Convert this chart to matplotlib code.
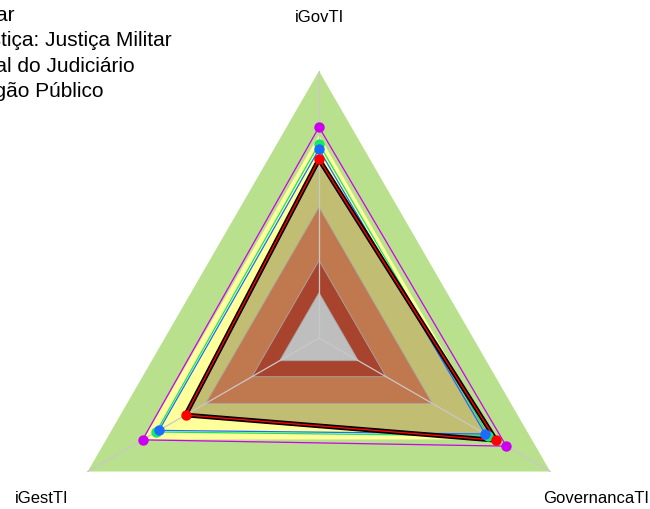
import numpy as np
import matplotlib
matplotlib.use("Agg")
import matplotlib.pyplot as plt
import matplotlib.patches as pat

plt.rcParams['font.family'] = ['Liberation Sans', 'DejaVu Sans']

# axes of the radar, in drawing order (top, then counter-clockwise)
axis_names = ["iGovTI", "iGestTI", "GovernancaTI"]

# background bands (outer limit of each band, 0..1 scale)
band_limits = [1.0, 0.76, 0.49, 0.29, 0.17]
band_colors = ["#B9E08D", "#FFFF9C", "#C0784F", "#A8432E", "#BEBEBE"]

# series values: iGovTI, iGestTI, GovernancaTI
series_names = ["Superior Tribunal Militar",
                "Segmento de Justiça: Justiça Militar",
                "Média Geral do Judiciário",
                "Média Geral Órgão Público"]
stm = [0.669, 0.577, 0.766]
seg_militar = [0.727, 0.704, 0.733]
judiciario = [0.707, 0.692, 0.719]
orgao_publico = [0.790, 0.763, 0.810]

series_values = [stm, seg_militar, judiciario, orgao_publico]
series_colors = ["#FF0000", "#19E46C", "#1A6BFF", "#CC00EE"]

# geometry: center pixel and radius of the outer triangle
W, H = 650, 509
cx, cy, R = 319, 338, 267

fig = plt.figure(figsize=(W / 100, H / 100), dpi=100)
ax = fig.add_axes([0, 0, 1, 1])
ax.set_xlim(-cx / R, (W - cx) / R)
ax.set_ylim((cy - H) / R, cy / R)
ax.axis("off")

angles = np.deg2rad([90, 210, 330])


def to_xy(values):
    v = np.asarray(values, dtype=float)
    return v * np.cos(angles), v * np.sin(angles)


def add_triangle(values, color, z, edge="none", lw=0):
    x, y = to_xy(values)
    p = pat.Polygon(list(zip(x, y)), closed=True, facecolor=color,
                    edgecolor=edge, linewidth=lw, zorder=z)
    ax.add_patch(p)


# outer bands: green and yellow
add_triangle([band_limits[0]] * 3, band_colors[0], 1)
add_triangle([band_limits[1]] * 3, band_colors[1], 2)

# fill of the organ series
add_triangle(stm, "#C1BE73", 3)

# inner bands
for z, (lim, col) in enumerate(zip(band_limits[2:], band_colors[2:])):
    add_triangle([lim] * 3, col, 4 + z, edge="#A8A8A8", lw=0.6)

# axis lines
for a in angles:
    ax.plot([0, np.cos(a)], [0, np.sin(a)], color="#C8C8C8", lw=0.9, zorder=8)

# series lines (magenta, blue, green first, organ on top)
for vals, col in zip(series_values[::-1][:3], series_colors[::-1][:3]):
    x, y = to_xy(vals)
    ax.plot(np.append(x, x[0]), np.append(y, y[0]), color=col, lw=0.9, zorder=9)

x, y = to_xy(stm)
ax.plot(np.append(x, x[0]), np.append(y, y[0]), color="black", lw=3.4,
        zorder=10, solid_joinstyle="miter")
ax.plot(np.append(x, x[0]), np.append(y, y[0]), color="#FF0000", lw=1.0,
        zorder=11)

# points: magenta, green, blue, red (red on top)
point_order = [3, 1, 2, 0]
for z, i in enumerate(point_order):
    x, y = to_xy(series_values[i])
    ax.plot(x, y, "o", color=series_colors[i], markersize=7.5,
            markeredgewidth=0, zorder=12 + z)

# axis labels
for name, a in zip(axis_names, angles):
    ax.text(1.2 * np.cos(a), 1.2 * np.sin(a), name, ha="center", va="center",
            fontsize=12, color="black")

# legend text (left part runs off the figure)
legend_ends = [15, 172, 135, 104]
legend_base = [21, 46, 71.5, 97]
for name, xe, yb in zip(series_names, legend_ends, legend_base):
    fig.text(xe / W, 1 - yb / H, name, ha="right", va="baseline",
             fontsize=15, color="black")

fig.savefig("out.png", dpi=100)
